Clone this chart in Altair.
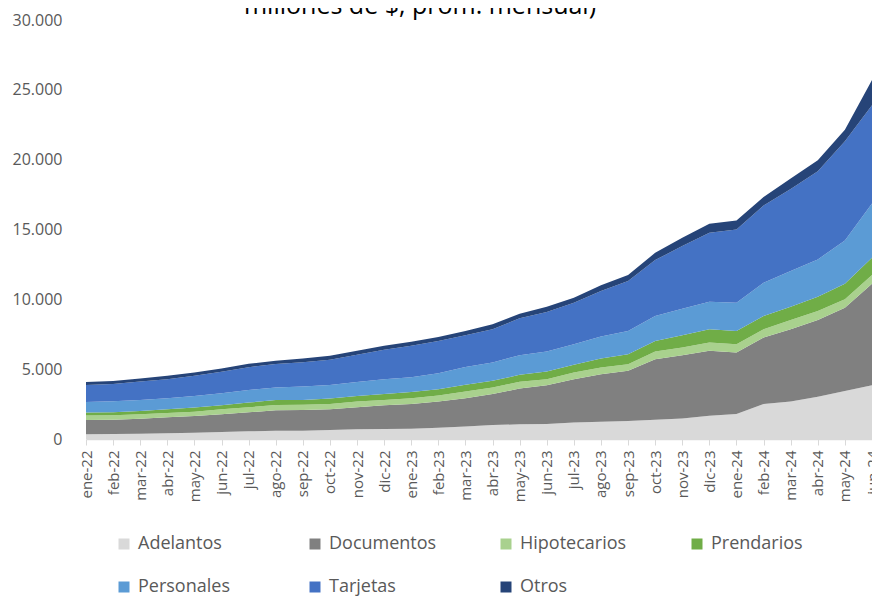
import altair as alt
import pandas as pd

meses = ["ene-22", "feb-22", "mar-22", "abr-22", "may-22", "jun-22", "jul-22", "ago-22",
         "sep-22", "oct-22", "nov-22", "dic-22", "ene-23", "feb-23", "mar-23", "abr-23",
         "may-23", "jun-23", "jul-23", "ago-23", "sep-23", "oct-23", "nov-23", "dic-23",
         "ene-24", "feb-24", "mar-24", "abr-24", "may-24", "jun-24"]

adelantos = [335, 359, 383, 406, 454, 502, 550, 590, 598, 646, 694, 717, 741, 813, 900,
             1000, 1048, 1071, 1190, 1238, 1286, 1381, 1476, 1667, 1786, 2500, 2690, 3024, 3429, 3857]
documentos = [1028, 1028, 1075, 1148, 1196, 1268, 1363, 1460, 1472, 1482, 1578, 1698, 1770, 1865, 2020,
              2214, 2571, 2786, 3096, 3405, 3595, 4333, 4524, 4643, 4404, 4762, 5167, 5500, 5976, 7262]
hipotecarios = [311, 311, 312, 311, 310, 358, 359, 379, 380, 383, 406, 383, 406, 431, 480,
                476, 476, 429, 476, 476, 476, 548, 548, 595, 596, 595, 667, 643, 595, 619]
prendarios = [215, 215, 239, 263, 287, 287, 334, 359, 350, 382, 407, 430, 455, 454, 480,
              477, 500, 547, 548, 643, 714, 762, 881, 952, 952, 953, 952, 1023, 1119, 1238]
personales = [765, 789, 789, 789, 838, 861, 909, 908, 954, 981, 1004, 1052, 1052, 1148, 1270,
              1309, 1405, 1429, 1476, 1571, 1667, 1786, 1904, 1976, 2024, 2380, 2548, 2667, 3095, 3881]
tarjetas = [1220, 1244, 1315, 1363, 1435, 1531, 1626, 1674, 1746, 1793, 1937, 2105, 2248, 2300, 2280,
            2381, 2643, 2833, 2976, 3262, 3572, 4000, 4477, 4929, 5238, 5524, 5881, 6310, 7096, 7043]
otros = [215, 215, 215, 240, 238, 239, 239, 239, 262, 287, 287, 287, 287, 287, 300,
         357, 333, 381, 357, 405, 428, 523, 595, 643, 643, 619, 738, 785, 833, 1800]

series = ["Adelantos", "Documentos", "Hipotecarios", "Prendarios", "Personales", "Tarjetas", "Otros"]
valores = [adelantos, documentos, hipotecarios, prendarios, personales, tarjetas, otros]
colores = ["#D9D9D9", "#808080", "#A9D18E", "#70AD47", "#5B9BD5", "#4472C4", "#264478"]

titulo = "millones de $, prom. mensual)"

rows = []
for k, (s, vals) in enumerate(zip(series, valores)):
    for m, v in zip(meses, vals):
        rows.append({"mes": m, "serie": s, "valor": v, "orden": k})
df = pd.DataFrame(rows)

FONT = "Open Sans"
LABEL = "#595959"

areas = alt.Chart(df).mark_area(opacity=1).encode(
    x=alt.X("mes:O", sort=meses, title=None,
            scale=alt.Scale(type="point", padding=0),
            axis=alt.Axis(labelAngle=-90, labelAlign="right", labelBaseline="middle",
                          labelFontSize=15, labelColor=LABEL, labelFont=FONT, labelPadding=5,
                          tickColor="#D9D9D9", tickSize=6, domainColor="#D9D9D9", domainWidth=1.5,
                          grid=False)),
    y=alt.Y("valor:Q", stack="zero", title=None,
            scale=alt.Scale(domain=[0, 30000], nice=False),
            axis=alt.Axis(values=[0, 5000, 10000, 15000, 20000, 25000, 30000],
                          labelExpr="replace(format(datum.value, ','), ',', '.')",
                          labelFontSize=16, labelColor=LABEL, labelFont=FONT, labelPadding=24,
                          domain=False, ticks=False, grid=False)),
    color=alt.Color("serie:N", sort=series,
                    scale=alt.Scale(domain=series, range=colores),
                    legend=alt.Legend(title=None, orient="none", legendX=29, legendY=515,
                                      direction="horizontal", columns=4, gridAlign="all",
                                      symbolType="square", symbolSize=121, symbolStrokeWidth=0,
                                      labelFontSize=18, labelColor=LABEL, labelFont=FONT,
                                      labelOffset=5, columnPadding=60, rowPadding=25,
                                      labelLimit=200)),
    order=alt.Order("orden:Q", sort="ascending"),
)

tit = alt.Chart(pd.DataFrame({"t": [titulo]})).mark_text(
    fontSize=25, font=FONT, color="#000000", align="center", baseline="alphabetic"
).encode(text="t:N", x=alt.value(334), y=alt.value(-6))

chart = alt.layer(areas, tit).properties(
    width=786, height=419,
    autosize=alt.AutoSizeParams(type="none"),
    padding={"left": 78, "top": 12, "right": 0, "bottom": 157},
).configure_view(stroke=None)

chart.save("out.html", embed_options={"renderer": "svg", "actions": False})
